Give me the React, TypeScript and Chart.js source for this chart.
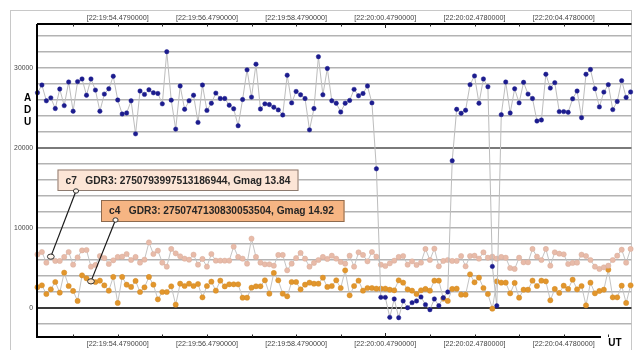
import React, { useEffect, useRef } from 'react';
import { Chart, registerables } from 'chart.js';
Chart.register(...registerables);

// sample index (0.1 s steps); index 18 = 22:19:54.479
const sampleIndex: number[] = Array.from({ length: 134 }, (_, i) => i);

// target star (ADU)
const targetADU: number[] = [
  26900, 27870, 25900, 26270, 24930, 27370, 25300, 28250, 24600, 28300,
  28630, 26600, 28630, 27240, 24600, 26740, 27400, 28970, 26000, 24250,
  24380, 25900, 21770, 27120, 26700, 27280, 26900, 26820, 25520, 32040,
  25980, 22360, 27750, 24840, 25900, 26600, 23200, 27870, 24700, 25600,
  26860, 26190, 26190, 25350, 24900, 22780, 26060, 29770, 26360, 30480,
  24880, 25520, 25430, 25100, 24760, 24130, 29100, 25640, 27070, 26650,
  26190, 22270, 24930, 31410, 26650, 29940, 25900, 25600, 24500, 25600,
  25940, 27330, 26530, 26820, 27750, 25640, 17400, 1330, 1330, -1170,
  1130, -1210, 880, 40, 670, 880, 1380, 420, -210, 1130,
  290, 1290, 2000, 18400, 24840, 24340, 24720, 27920, 29010, 25600,
  28630, 27660, 5200, 280, 24170, 28250, 24380, 27400, 25640, 28210,
  26740, 26190, 23370, 23500, 29220, 27490, 28170, 24550, 24550, 24460,
  26150, 27120, 23790, 29220, 29810, 27410, 25140, 26990, 27920, 24800,
  25810, 28420, 26320, 27000,
];

// c7 comparison star (ADU)
const c7ADU: number[] = [
  6700, 7000, 5670, 6420, 5880, 5880, 6380, 7000, 5420, 6330,
  7200, 7250, 5170, 5380, 6500, 6250, 5500, 5960, 6380, 6420,
  6750, 6000, 6380, 5670, 6040, 8200, 6750, 7170, 5670, 5170,
  7380, 6830, 6460, 6170, 6040, 6670, 5420, 6130, 5170, 6750,
  5920, 5920, 5920, 5920, 7670, 6380, 6170, 5540, 8670, 6380,
  5670, 5460, 5460, 5290, 6630, 6630, 4710, 5540, 6250, 6880,
  6170, 5170, 5630, 6000, 6380, 6130, 6540, 6170, 5750, 5540,
  6540, 5170, 6960, 6630, 5830, 7000, 6420, 5420, 5250, 5580,
  5920, 6380, 6500, 5420, 5830, 5380, 5670, 7380, 6000, 7420,
  5210, 5880, 6000, 5880, 5880, 6500, 5210, 6500, 6540, 6170,
  6960, 6290, 6420, 6170, 6380, 6290, 5000, 4880, 6290, 5710,
  5710, 7380, 6420, 6000, 7380, 5290, 6960, 6790, 6710, 5500,
  5630, 5670, 6670, 6500, 6000, 5170, 4880, 5080, 5290, 6000,
  6540, 7290, 5670, 7380,
];

// c4 comparison star (ADU)
const c4ADU: number[] = [
  2600, 2830, 1750, 2330, 3250, 1920, 4420, 2750, 2130, 880,
  4080, 3710, 3330, 3250, 3420, 2830, 2170, 3880, 630, 3880,
  2920, 2630, 3380, 2000, 2580, 3880, 2920, 1080, 2000, 2000,
  2710, 420, 3040, 2750, 3040, 2750, 3000, 1330, 2750, 3290,
  2170, 3420, 2700, 2960, 2960, 2960, 1290, 1290, 2540, 2710,
  2710, 3460, 1790, 4380, 3460, 1790, 1460, 3250, 3250, 2330,
  2920, 3170, 3040, 3040, 3790, 2630, 2750, 3460, 2500, 4710,
  1580, 2750, 3420, 2170, 2500, 2500, 2420, 2420, 2420, 2290,
  2210, 3460, 3170, 2330, 2170, 1750, 2210, 2380, 2170, 3420,
  3420, 1170, 880, 2380, 2420, 1670, 1670, 4210, 3210, 3790,
  2500, 1750, -80, 3330, 3170, 3170, 1830, 3130, 1290, 2290,
  2290, 3420, 2750, 3420, 3330, 960, 2380, 1880, 2790, 2380,
  3540, 2330, 2750, 330, 3170, 1830, 2130, 2290, 4790, 1330,
  1330, 2790, 630, 2830,
];

const xLabelIndex: number[] = [18, 38, 58, 78, 98, 118];
const xLabels: string[] = [
  '[22:19:54.4790000]', '[22:19:56.4790000]', '[22:19:58.4790000]',
  '[22:20:00.4790000]', '[22:20:02.4780000]', '[22:20:04.4780000]',
];
const xMinorIndex: number[] = [8, 28, 48, 68, 88, 108, 128];
const yGridValues: number[] = [-2000, 0, 2000, 4000, 6000, 8000, 10000, 12000, 14000, 16000, 18000, 20000, 22000, 24000, 26000, 28000, 30000, 32000, 34000];
const yLabelValues: number[] = [0, 10000, 20000, 30000];

const c7Caption = 'c7   GDR3: 2750793997513186944, Gmag 13.84';
const c4Caption = 'c4   GDR3: 2750747130830053504, Gmag 14.92';

const tickFont = { family: "'Liberation Sans', Arial, sans-serif", size: 7.2 };

const decorPlugin = {
  id: 'decor',
  beforeDraw(chart: any) {
    const { ctx } = chart;
    ctx.save();
    ctx.fillStyle = '#ffffff';
    ctx.fillRect(0, 0, chart.width, chart.height);
    ctx.strokeStyle = '#c8c8c8';
    ctx.lineWidth = 1;
    ctx.strokeRect(10.5, 10.5, 621, 345);
    ctx.restore();
  },
  afterDraw(chart: any) {
    const { ctx, chartArea: a } = chart;
    const xs = chart.scales.x;
    ctx.save();
    // axis lines
    ctx.strokeStyle = '#000';
    ctx.lineWidth = 2;
    ctx.beginPath();
    ctx.moveTo(a.left, a.top);
    ctx.lineTo(a.right, a.top);
    ctx.moveTo(a.left, a.top);
    ctx.lineTo(a.left, a.bottom);
    ctx.moveTo(a.left - 1, a.bottom);
    ctx.lineTo(601, a.bottom);
    ctx.stroke();
    // tick marks
    ctx.lineWidth = 1;
    ctx.strokeStyle = '#222';
    const all = [...xMinorIndex, ...xLabelIndex];
    all.forEach((v) => {
      const px = Math.round(xs.getPixelForValue(v)) + 0.5;
      const len = v === 78 ? 4 : 2.5;
      ctx.beginPath();
      ctx.moveTo(px, a.top);
      ctx.lineTo(px, a.top + len);
      ctx.moveTo(px, a.bottom);
      ctx.lineTo(px, a.bottom - len);
      ctx.stroke();
    });
    // axis titles
    ctx.fillStyle = '#000';
    ctx.font = "bold 10px 'Liberation Sans', Arial, sans-serif";
    ctx.textAlign = 'center';
    ctx.textBaseline = 'middle';
    ctx.fillText('A', 27.5, 98);
    ctx.fillText('D', 27.5, 110);
    ctx.fillText('U', 27.5, 122);
    ctx.fillText('UT', 615, 343);

    // callouts
    const drawCallout = (dsIndex: number, pointIndex: number, box: number[], fill: string, border: string, text: string, anchor: number[], dotFill: string) => {
      const pt = chart.getDatasetMeta(dsIndex).data[pointIndex];
      ctx.strokeStyle = '#1a1a1a';
      ctx.lineWidth = 1.2;
      ctx.beginPath();
      ctx.moveTo(anchor[0], anchor[1]);
      ctx.lineTo(pt.x, pt.y);
      ctx.stroke();
      ctx.fillStyle = fill;
      ctx.fillRect(box[0], box[1], box[2], box[3]);
      ctx.strokeStyle = border;
      ctx.lineWidth = 1;
      ctx.strokeRect(box[0] + 0.5, box[1] + 0.5, box[2] - 1, box[3] - 1);
      ctx.fillStyle = '#262626';
      ctx.font = "bold 10.2px 'Liberation Sans', Arial, sans-serif";
      ctx.textAlign = 'left';
      ctx.textBaseline = 'middle';
      ctx.fillText(text, box[0] + 8, box[1] + box[3] / 2 + 0.5);
      // anchor dots
      ctx.strokeStyle = '#333';
      ctx.lineWidth = 1;
      ctx.fillStyle = '#fff8f0';
      ctx.beginPath();
      ctx.ellipse(anchor[0], anchor[1], 2.6, 2.2, 0, 0, Math.PI * 2);
      ctx.fill();
      ctx.stroke();
      ctx.fillStyle = dotFill;
      ctx.beginPath();
      ctx.ellipse(pt.x, pt.y, 3.4, 2.6, 0, 0, Math.PI * 2);
      ctx.fill();
      ctx.stroke();
    };
    drawCallout(1, 3, [57.5, 169.5, 241, 21.5], '#fce5d6', '#8d7b70', c7Caption, [76, 191], '#fff6ee');
    drawCallout(2, 12, [101, 200, 243.5, 22], '#f6b583', '#8d6a4e', c4Caption, [115.5, 220], '#fbe2c4');
    ctx.restore();
  },
};

export default function App() {
  const ref = useRef<HTMLCanvasElement>(null);
  useEffect(() => {
    if (!ref.current) return;
    const labelFor = (v: number) => {
      const k = xLabelIndex.indexOf(v);
      return k >= 0 ? xLabels[k] : '';
    };
    const xTickList = () => [...xMinorIndex, ...xLabelIndex].sort((p, q) => p - q).map((v) => ({ value: v }));
    const xCommon = {
      type: 'linear' as const,
      min: -0.1,
      max: 133.2,
      grid: { display: false, drawTicks: false },
      border: { display: false },
      ticks: {
        autoSkip: false,
        maxRotation: 0,
        minRotation: 0,
        font: tickFont,
        color: '#444',
        callback: (v: any) => labelFor(Number(v)),
      },
      afterBuildTicks: (s: any) => { s.ticks = xTickList(); },
    };
    const chart = new Chart(ref.current, {
      type: 'line',
      data: {
        datasets: [
          {
            label: 'target',
            data: sampleIndex.map((i) => ({ x: i, y: targetADU[i] })),
            borderColor: '#bdbdbd',
            borderWidth: 1,
            pointRadius: 2.2,
            pointBackgroundColor: '#1c1c8e',
            pointBorderColor: '#1c1c8e',
            pointBorderWidth: 0.5,
            tension: 0,
          },
          {
            label: 'c7',
            data: sampleIndex.map((i) => ({ x: i, y: c7ADU[i] })),
            borderColor: '#c4c4c4',
            borderWidth: 1,
            pointRadius: 2.6,
            pointBackgroundColor: '#e8bba9',
            pointBorderColor: '#d9ad9b',
            pointBorderWidth: 0.5,
            tension: 0,
          },
          {
            label: 'c4',
            data: sampleIndex.map((i) => ({ x: i, y: c4ADU[i] })),
            borderColor: '#c4c4c4',
            borderWidth: 1,
            pointRadius: 2.6,
            pointBackgroundColor: '#e2962c',
            pointBorderColor: '#d38a26',
            pointBorderWidth: 0.5,
            tension: 0,
          },
        ],
      },
      options: {
        animation: false,
        responsive: false,
        devicePixelRatio: 1,
        clip: false as any,
        layout: { padding: { left: 0, right: 4, top: 0, bottom: 0 } },
        plugins: { legend: { display: false }, tooltip: { enabled: false } },
        scales: {
          x: {
            ...xCommon,
            position: 'bottom',
            ticks: { ...xCommon.ticks, padding: 3 },
            afterFit: (s: any) => { s.height = 13; },
          },
          x2: {
            ...xCommon,
            position: 'top',
            ticks: { ...xCommon.ticks, padding: 1.5 },
            afterFit: (s: any) => { s.height = 24; },
          },
          y: {
            type: 'linear',
            min: -3625,
            max: 35500,
            afterBuildTicks: (s: any) => { s.ticks = yGridValues.map((v) => ({ value: v })); },
            afterFit: (s: any) => { s.width = 37; },
            border: { display: false },
            grid: {
              drawTicks: false,
              color: (c: any) => (c.tick && c.tick.value === 0 ? '#3a3a3a' : c.tick && c.tick.value === 20000 ? '#7a7a7a' : '#b3b3b3'),
              lineWidth: (c: any) => (c.tick && (c.tick.value === 0 || c.tick.value === 20000) ? 2 : 1.5),
            },
            ticks: {
              autoSkip: false,
              padding: 4,
              font: { family: "'Liberation Sans', Arial, sans-serif", size: 6.8 },
              color: '#444',
              callback: (v: any) => (yLabelValues.includes(Number(v)) ? String(v) : ''),
            },
          },
        },
      },
      plugins: [decorPlugin],
    });
    return () => chart.destroy();
  }, []);
  return (
    <div style={{ position: 'fixed', left: 0, top: 0, width: 636, height: 350 }}>
      <canvas ref={ref} width={636} height={350} style={{ width: 636, height: 350, display: 'block' }} />
    </div>
  );
}
